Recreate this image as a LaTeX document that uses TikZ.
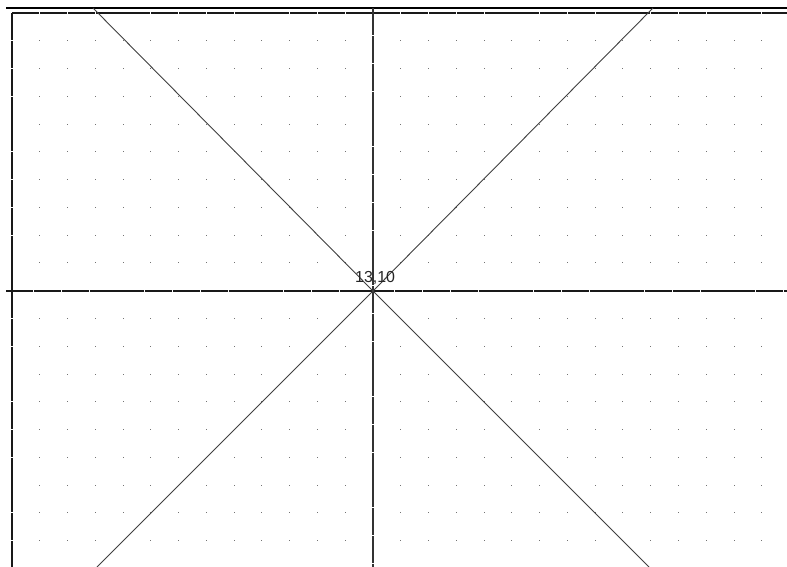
\documentclass[tikz,border=0pt]{standalone}
\usepackage{fontspec}
\setmainfont{Liberation Sans}
\begin{document}
\begin{tikzpicture}[x=1bp,y=-1bp,
  gridline/.style={line width=1.15bp,black!90,dash pattern=on 27.0bp off 0.77bp,dash phase=-0.4bp},
  solidline/.style={line width=1.3bp,black},
  diag/.style={line width=0.9bp,black!75},
  dotmark/.style={fill=black!55},
  lbl/.style={font=\fontsize{16}{16}\selectfont,inner sep=0pt,anchor=base west,text=black!85}]
\useasboundingbox[fill=white] (0,0) rectangle (787,567);
% grid dots
\foreach \i in {1,...,27}{
  \foreach \j in {1,...,19}{
    \fill[dotmark] ({12+27.77*\i-0.5},{13+27.77*\j-0.5}) rectangle ++(1,1);
  }
}
% named points
\coordinate (C) at (373,291);
\coordinate (TL) at (93,8);
\coordinate (TR) at (653,8);
\coordinate (BL) at (97,567);
\coordinate (BR) at (649,567);
\coordinate (topL) at (6,8);
\coordinate (topR) at (787,8);
\coordinate (g0L) at (12,13);
\coordinate (g0R) at (787,13);
\coordinate (g0B) at (12,567);
\coordinate (axL) at (6,291);
\coordinate (axR) at (787,291);
\coordinate (vT) at (373,8);
\coordinate (vB) at (373,567);
% lines
\draw[solidline] (topL) -- (topR);
\draw[gridline] (g0L) -- (g0R);
\draw[gridline] (g0L) -- (g0B);
\draw[gridline] (axL) -- (axR);
\draw[gridline,black!80] (vT) -- (vB);
\draw[diag] (TL) -- (C) -- (BR);
\draw[diag] (TR) -- (C) -- (BL);
\node[lbl] (label) at (355,282) {13,10};
\end{tikzpicture}
\end{document}
